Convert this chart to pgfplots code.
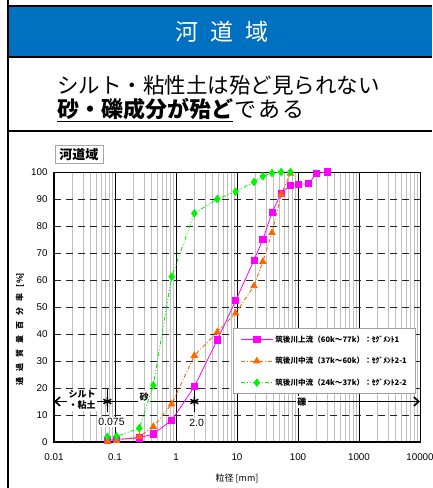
\documentclass[border=0pt]{standalone}
\usepackage{fontspec}
\usepackage{pgfplots}
\usepackage{pgfplotstable}
\pgfplotsset{compat=1.18}
\usetikzlibrary{arrows.meta}
\setmainfont{Liberation Sans}
\newfontfamily\jp{Noto Sans CJK JP}

\definecolor{hdrblue}{RGB}{0,112,192}
\definecolor{segA}{RGB}{255,0,255}
\definecolor{segB}{RGB}{255,102,0}
\definecolor{segC}{RGB}{0,245,0}

% grain size [mm] vs. percent passing [%]
\pgfplotstableread{
d p
0.075 0.5
0.106 1.0
0.25 1.5
0.425 3.0
0.85 8.0
2.0 20.5
4.75 37.8
9.5 52.3
19 67.4
26.5 75.0
37.5 85.0
53 92.2
75 95.0
100 95.4
150 95.7
200 99.4
300 100
}\upper
\pgfplotstableread{
d p
0.075 0.2
0.106 0.5
0.25 2.0
0.425 5.7
0.85 14.0
2.0 32.0
4.75 40.7
9.5 47.7
19 57.8
26.5 66.8
37.5 77.5
53 91.7
75 99.5
}\middleA
\pgfplotstableread{
d p
0.075 1.9
0.106 2.1
0.25 5.1
0.425 21.0
0.85 61.2
2.0 84.7
4.75 90.0
9.5 92.7
19 96.3
26.5 98.4
37.5 99.6
53 100
75 100
}\middleB

\begin{document}
\begin{tikzpicture}[x=1pt,y=1pt]
\useasboundingbox (0,0) rectangle (432,488);
\clip (0,0) rectangle (432,488);

% header band
\fill[hdrblue] (8,431) rectangle (432,482);
\draw[line width=1.2pt] (8,482) -- (432,482);
\draw[line width=1.2pt] (8,431) -- (432,431);
\draw[line width=1.2pt] (8,357) -- (432,357);
\draw[line width=1.2pt] (8,488) -- (8,0);

\node[text=white, font=\jp\fontsize{23}{23}\selectfont] at (222,456)
  {河\hspace{12pt}道\hspace{12pt}域};
\node[anchor=west, font=\jp\fontsize{21.5}{22}\selectfont, inner sep=0pt] at (57,403)
  {シルト・粘性土は殆ど見られない};
\node[anchor=west, font=\jp\fontsize{22}{22}\selectfont, inner sep=0pt] at (57,378)
  {\underline{\bfseries 砂・礫成分が殆ど}\hspace{1pt}で\hspace{2pt}あ\hspace{2pt}る};

% panel tag
\node[draw=gray!70, line width=0.8pt, font=\jp\bfseries\fontsize{13}{14}\selectfont,
  inner sep=2.5pt, minimum width=48pt] at (79,333.5) {河道域};

% axis titles
\node[rotate=90, font=\jp\bfseries\fontsize{8}{9}\selectfont] at (20,159)
  {通\hspace{6pt}過\hspace{6pt}質\hspace{6pt}量\hspace{6pt}百\hspace{6pt}分\hspace{6pt}率\hspace{6pt}[\%]};
\node[font=\jp\fontsize{9}{10}\selectfont] at (237,10) {粒径 [mm]};

\begin{axis}[
  at={(54pt,46pt)}, anchor=south west,
  width=366pt, height=270pt, scale only axis,
  xmode=log, xmin=0.01, xmax=10000, ymin=0, ymax=100,
  xtick={0.01,0.1,1,10,100,1000,10000},
  xticklabels={0.01,0.1,1,10,100,1000,10000},
  minor xtick={0.02,0.03,0.04,0.05,0.06,0.07,0.08,0.09,
               0.2,0.3,0.4,0.5,0.6,0.7,0.8,0.9,
               2,3,4,5,6,7,8,9,
               20,30,40,50,60,70,80,90,
               200,300,400,500,600,700,800,900,
               2000,3000,4000,5000,6000,7000,8000,9000},
  ytick={0,10,20,30,40,50,60,70,80,90,100},
  xmajorgrids, xminorgrids, ymajorgrids,
  major x grid style={black, line width=0.9pt},
  minor x grid style={gray!50, line width=1.1pt},
  major y grid style={black!85, line width=0.9pt, dash pattern=on 7pt off 5pt},
  major tick length=0pt, minor tick length=0pt,
  axis line style={black, line width=0.8pt},
  tick label style={font=\fontsize{9.8}{10}\selectfont},
  /pgf/number format/assume math mode=true,
  xticklabel style={yshift=-8pt},
  yticklabel style={xshift=-3pt},
  clip=false,
  legend style={at={(rel axis cs:0.489,0.422)}, anchor=north west,
    draw=gray!75, line width=0.9pt, fill=white,
    font=\jp\bfseries\fontsize{7.6}{8.2}\selectfont,
    row sep=9.5pt, inner xsep=7pt, inner ysep=5pt},
  legend cell align=left,
  legend image code/.code={%
    \draw[mark repeat=2, mark phase=2, #1]
      plot coordinates {(0pt,0pt) (16pt,0pt) (32pt,0pt)};},
]
% heavier left and bottom frame
\draw[line width=1.6pt] (rel axis cs:0,1) -- (rel axis cs:0,0) -- (rel axis cs:1,0);

% soil class band at 15 %
\draw[line width=1.6pt, {Straight Barb[length=5pt,width=9pt]}-{Straight Barb[length=5pt,width=9pt]}]
  (axis cs:0.01,15) -- (axis cs:10000,15);
\draw[line width=1.5pt] (axis cs:0.075,11) -- (axis cs:0.075,19.5);
\draw[line width=1.5pt] (axis cs:2,11) -- (axis cs:2,19.5);
\addplot[only marks, mark=asterisk, mark size=4.5pt, line width=1.4pt, black, forget plot]
  coordinates {(0.075,15) (2,15)};
\node[fill=white, inner sep=1.5pt, align=center, font=\jp\bfseries\fontsize{9}{10.5}\selectfont]
  at (axis cs:0.029,15.6) {シルト\\・粘土};
\node[fill=white, inner sep=1.5pt, font=\jp\bfseries\fontsize{9}{10}\selectfont]
  at (axis cs:0.3,16.6) {砂};
\node[fill=white, inner sep=1.5pt, font=\jp\bfseries\fontsize{9}{10}\selectfont]
  at (axis cs:116,14.8) {礫};
\node[fill=white, inner sep=1.5pt, font=\fontsize{10.5}{11}\selectfont]
  at (axis cs:0.0877,7.4) {0.075};
\node[fill=white, inner sep=1.5pt, font=\fontsize{10.5}{11}\selectfont]
  at (axis cs:2.18,6.9) {2.0};

\addplot[segA, line width=0.8pt, mark=square*, mark size=3.1pt,
  mark options={solid}] table[x=d, y=p] {\upper};
\addlegendentry{筑後川上流（60k～77k）：ｾｸﾞﾒﾝﾄ1}
\addplot[segB, line width=0.9pt, dash pattern=on 4pt off 2pt on 1pt off 2pt,
  mark=triangle*, mark size=3.6pt, mark options={solid}] table[x=d, y=p] {\middleA};
\addlegendentry{筑後川中流（37k～60k）：ｾｸﾞﾒﾝﾄ2-1}
\addplot[segC, line width=0.9pt, dash pattern=on 4pt off 2pt on 1pt off 2pt on 1pt off 2pt,
  mark=diamond*, mark size=3.6pt, mark options={solid}] table[x=d, y=p] {\middleB};
\addlegendentry{筑後川中流（24k～37k）：ｾｸﾞﾒﾝﾄ2-2}
\end{axis}
\end{tikzpicture}
\end{document}
